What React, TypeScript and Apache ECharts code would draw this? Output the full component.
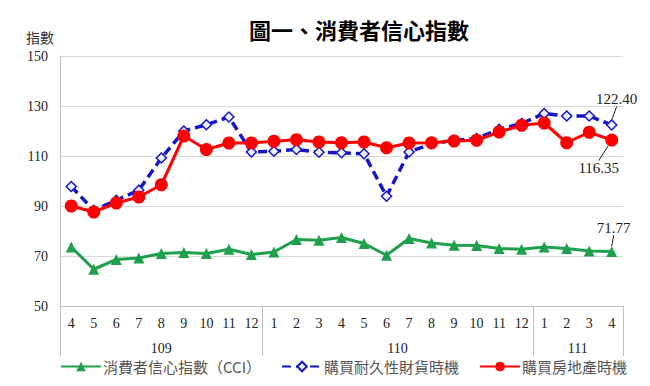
import React, { useEffect, useRef } from "react";
import * as echarts from "echarts";

const months = ["4","5","6","7","8","9","10","11","12","1","2","3","4","5","6","7","8","9","10","11","12","1","2","3","4"];
const years = ["109", "110", "111"];
const yearStartIndex = [0, 9, 21];
const yearLabelIndex = [4, 14, 22];
const cci = [73.6,64.7,68.6,69.2,71.0,71.4,71.0,72.7,70.6,71.6,76.6,76.3,77.4,75.0,70.3,77.0,75.2,74.3,74.2,73.0,72.7,73.6,73.0,72.0,71.77];
const durable = [97.8,88.3,92.3,96.3,109.2,120.0,122.5,125.6,111.6,111.9,112.6,111.5,111.3,110.9,93.9,111.6,114.9,116.3,117.0,120.7,123.0,127.0,126.0,126.0,122.40];
const realEstate = [90.0,87.6,91.2,93.6,98.5,118.0,112.6,115.2,115.2,115.9,116.5,115.6,115.3,115.6,113.3,115.2,115.3,116.0,116.3,119.6,122.3,123.2,115.3,119.5,116.35];
const seriesNames = ["消費者信心指數（CCI）", "購買耐久性財貨時機", "購買房地產時機"];

const SERIF = "'Liberation Serif', 'Noto Sans CJK TC', serif";
const CJK = "'Noto Sans CJK TC', sans-serif";

function withLastLabel(arr: number[], position: string) {
  const last = arr.length - 1;
  return arr.map((v, i) =>
    i === last
      ? {
          value: v,
          label: {
            show: true,
            position,
            formatter: v.toFixed(2),
            fontFamily: SERIF,
            fontSize: 15,
            color: "#222",
          },
          labelLine: { show: true, lineStyle: { color: "#222", width: 1 } },
        }
      : v
  );
}

export default function App() {
  const ref = useRef<HTMLDivElement>(null);
  useEffect(() => {
    document.body.style.margin = "0";
    if (!ref.current) return;
    const chart = echarts.init(ref.current, null, { renderer: "svg" });
    const option: any = {
      animation: false,
      backgroundColor: "#fff",
      title: [
        {
          text: "圖一、消費者信心指數",
          left: 244,
          top: 13,
          textStyle: { fontSize: 22, fontWeight: "bold", fontFamily: CJK, color: "#000" },
        },
        {
          text: "指數",
          left: 21,
          top: 25,
          textStyle: { fontSize: 14, fontWeight: "normal", fontFamily: CJK, color: "#333" },
        },
      ],
      grid: { left: 60, right: 27, top: 56, bottom: 80, containLabel: false },
      legend: {
        left: 55,
        top: 354,
        itemWidth: 40,
        itemHeight: 12,
        itemGap: 20,
        textStyle: { fontFamily: CJK, fontSize: 15, color: "#555", padding: [0, 0, 0, -3] },
        data: seriesNames,
      },
      xAxis: [
        {
          type: "category",
          data: months,
          boundaryGap: true,
          axisLine: { lineStyle: { color: "#bfbfbf", width: 1 } },
          axisTick: { show: false },
          axisLabel: { interval: 0, margin: 10, fontFamily: SERIF, fontSize: 14, color: "#222" },
        },
        {
          type: "category",
          data: months,
          position: "bottom",
          boundaryGap: true,
          axisLine: { show: false },
          axisTick: {
            show: true,
            length: 50,
            interval: (i: number) => yearStartIndex.includes(i),
            lineStyle: { color: "#bfbfbf", width: 1 },
          },
          axisLabel: {
            interval: (i: number) => yearLabelIndex.includes(i),
            margin: 35,
            fontFamily: SERIF,
            fontSize: 14,
            color: "#222",
            formatter: (_v: string, i: number) => {
              const k = yearLabelIndex.indexOf(i);
              if (k < 0) return "";
              return k === 0 ? years[k] : "{s|" + years[k] + "}";
            },
            rich: {
              s: { fontFamily: SERIF, fontSize: 14, color: "#222", padding: [0, 0, 0, 22] },
            },
          },
          splitLine: { show: false },
        },
      ],
      yAxis: {
        type: "value",
        min: 50,
        max: 150,
        interval: 20,
        axisLine: { show: true, lineStyle: { color: "#bfbfbf", width: 1 } },
        axisTick: { show: false },
        splitLine: { lineStyle: { color: "#d9d9d9", width: 1 } },
        axisLabel: { margin: 12, fontFamily: SERIF, fontSize: 14, color: "#222" },
      },
      series: [
        {
          name: seriesNames[0],
          type: "line",
          data: withLastLabel(cci, "top"),
          symbol: "triangle",
          symbolSize: 11,
          lineStyle: { color: "#1fa04c", width: 3 },
          itemStyle: { color: "#1fa04c" },
          labelLayout: { dx: 2, dy: -6 },
          z: 3,
        },
        {
          name: seriesNames[1],
          type: "line",
          data: withLastLabel(durable, "top"),
          symbol: "diamond",
          symbolSize: 10,
          lineStyle: { color: "#1414c8", width: 3.5, type: [9, 5] },
          itemStyle: { color: "#eef0ff", borderColor: "#1414c8", borderWidth: 1.5 },
          labelLayout: { dx: 5, dy: -8 },
          z: 4,
        },
        {
          name: seriesNames[2],
          type: "line",
          data: withLastLabel(realEstate, "bottom"),
          symbol: "circle",
          symbolSize: 13,
          lineStyle: { color: "#ff0000", width: 3 },
          itemStyle: { color: "#ff0000" },
          labelLayout: { dx: -13, dy: 9 },
          z: 5,
        },
      ],
    };
    chart.setOption(option);
    return () => chart.dispose();
  }, []);
  return <div ref={ref} style={{ width: 650, height: 386 }} />;
}
